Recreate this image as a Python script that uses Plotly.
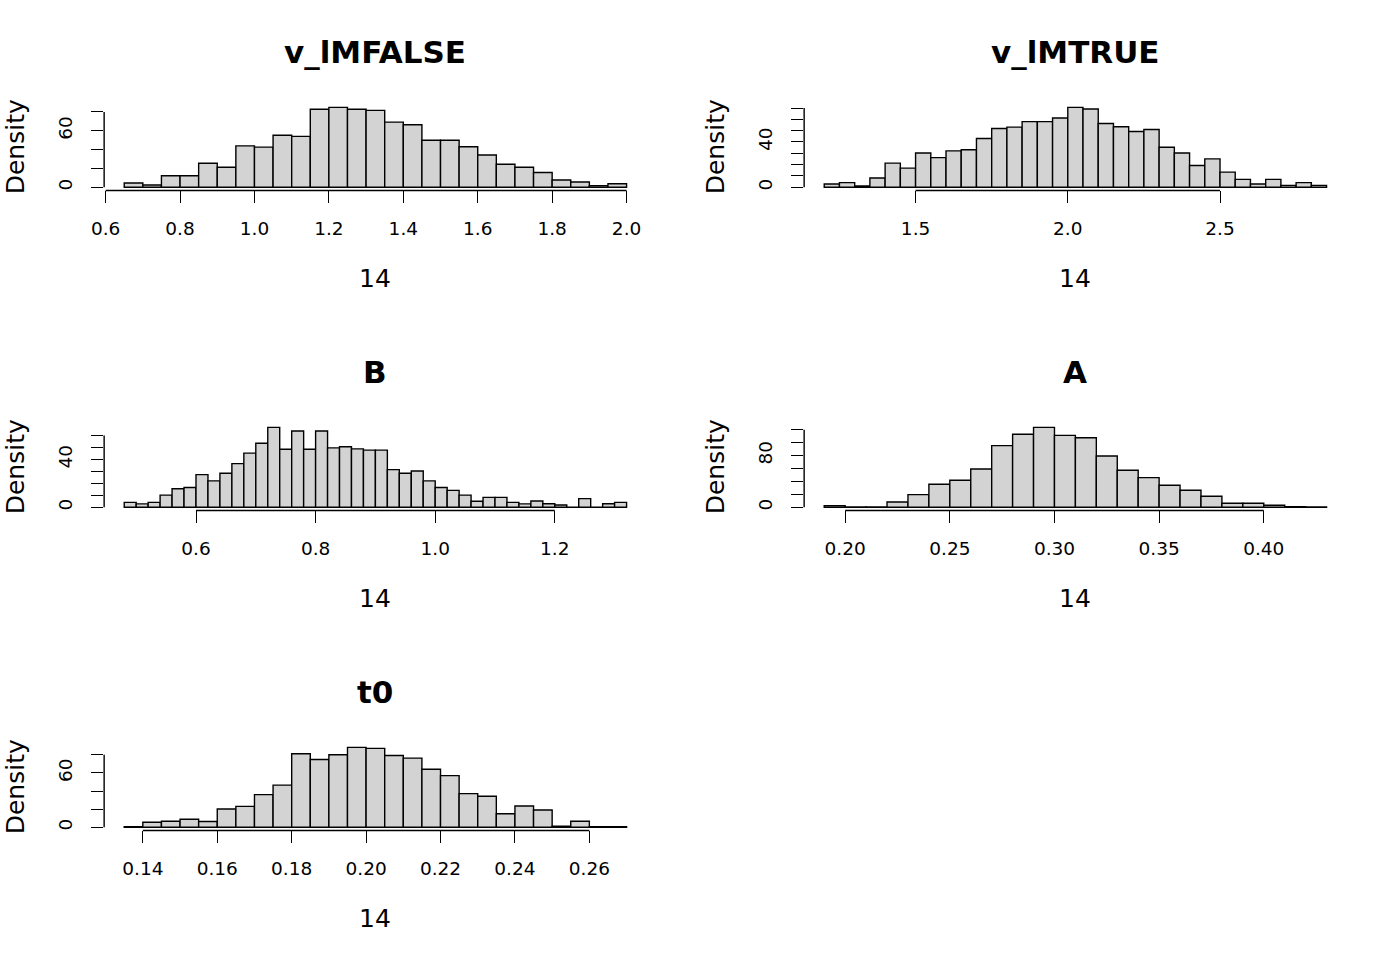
import plotly.graph_objects as go

W, H = 1400, 960

# ---------------- data ----------------
titles = ["v_lMFALSE", "v_lMTRUE", "B", "A", "t0"]
x_title = "14"
y_title = "Density"

# v_lMFALSE : breaks 0.65 .. 2.00 by 0.05
vf_start, vf_width = 0.65, 0.05
vf_density = [4.5, 2.4, 12.2, 12.2, 25.5, 21.3, 44.0, 42.6, 55.2, 54.1, 82.8, 84.9,
              82.8, 81.7, 69.2, 66.4, 50.0, 50.0, 43.0, 34.2, 24.5, 21.3, 15.7, 7.7,
              5.6, 1.7, 3.8]
vf_xticks = [0.6, 0.8, 1.0, 1.2, 1.4, 1.6, 1.8, 2.0]
vf_xlabels = ["0.6", "0.8", "1.0", "1.2", "1.4", "1.6", "1.8", "2.0"]
vf_yticks = [0, 20, 40, 60, 80]
vf_ylabels = ["0", "", "", "60", ""]

# v_lMTRUE : breaks 1.20 .. 2.85 by 0.05
vt_start, vt_width = 1.20, 0.05
vt_density = [2.9, 4.1, 1.2, 8.2, 21.3, 16.9, 30.3, 26.2, 32.1, 33.2, 43.1, 51.9,
              53.1, 58.0, 58.0, 61.2, 70.6, 69.1, 56.3, 53.4, 49.3, 51.0, 35.3, 30.3,
              19.2, 25.1, 13.4, 7.0, 2.9, 7.0, 1.7, 4.1, 1.7]
vt_xticks = [1.5, 2.0, 2.5]
vt_xlabels = ["1.5", "2.0", "2.5"]
vt_yticks = [0, 10, 20, 30, 40, 50, 60, 70]
vt_ylabels = ["0", "", "", "", "40", "", "", ""]

# B : breaks 0.48 .. 1.32 by 0.02
b_start, b_width = 0.48, 0.02
b_density = [4.1, 2.8, 4.1, 10.2, 15.5, 16.6, 27.3, 22.1, 28.5, 36.5, 45.3, 53.6,
             66.9, 48.6, 63.8, 48.6, 63.8, 49.7, 50.6, 48.9, 47.8, 47.8, 31.5, 28.5,
             30.4, 22.1, 16.6, 14.1, 10.2, 5.0, 8.3, 8.3, 4.1, 2.8, 5.2, 3.0,
             1.9, 0.0, 7.2, 0.0, 3.0, 4.1]
b_xticks = [0.6, 0.8, 1.0, 1.2]
b_xlabels = ["0.6", "0.8", "1.0", "1.2"]
b_yticks = [0, 10, 20, 30, 40, 50, 60]
b_ylabels = ["0", "", "", "", "40", "", ""]

# A : breaks 0.19 .. 0.43 by 0.01
a_start, a_width = 0.19, 0.01
a_density = [2.6, 0.5, 0.5, 8.2, 19.6, 35.6, 41.8, 59.3, 95.4, 112.9, 123.7, 111.3,
             107.7, 79.4, 57.2, 45.9, 34.0, 26.3, 17.0, 6.2, 6.2, 3.1, 1.0, 0.5]
a_xticks = [0.20, 0.25, 0.30, 0.35, 0.40]
a_xlabels = ["0.20", "0.25", "0.30", "0.35", "0.40"]
a_yticks = [0, 20, 40, 60, 80, 100, 120]
a_ylabels = ["0", "", "", "", "80", "", ""]

# t0 : breaks 0.135 .. 0.270 by 0.005
t_start, t_width = 0.135, 0.005
t_density = [0.7, 5.6, 6.7, 8.9, 6.3, 20.1, 23.1, 36.1, 46.6, 81.2, 74.9, 80.1,
             88.3, 87.2, 79.3, 76.4, 64.1, 57.0, 37.2, 34.3, 14.9, 23.5, 19.0, 1.1,
             6.7, 0.7, 0.7]
t_xticks = [0.14, 0.16, 0.18, 0.20, 0.22, 0.24, 0.26]
t_xlabels = ["0.14", "0.16", "0.18", "0.20", "0.22", "0.24", "0.26"]
t_yticks = [0, 20, 40, 60, 80]
t_ylabels = ["0", "", "", "60", ""]

panels = [
    (vf_start, vf_width, vf_density, vf_xticks, vf_xlabels, vf_yticks, vf_ylabels),
    (vt_start, vt_width, vt_density, vt_xticks, vt_xlabels, vt_yticks, vt_ylabels),
    (b_start, b_width, b_density, b_xticks, b_xlabels, b_yticks, b_ylabels),
    (a_start, a_width, a_density, a_xticks, a_xlabels, a_yticks, a_ylabels),
    (t_start, t_width, t_density, t_xticks, t_xlabels, t_yticks, t_ylabels),
]

# ---------------- layout geometry (R mfrow = c(3, 2)) ----------------
CELL_W, CELL_H = 700, 320
LINE = 25.4
ML, MR, MT, MB = 4.1 * LINE, 2.1 * LINE, 4.1 * LINE, 5.1 * LINE
FONT = "DejaVu Sans"
TICK_FONT = 18.5
LAB_FONT = 25
TITLE_FONT = 31
LW = 1.4

def px_x(x):
    return x / W

def px_y(y):
    return 1 - y / H

fig = go.Figure()
layout = dict(
    template="none",
    width=W, height=H,
    margin=dict(l=0, r=0, t=0, b=0, pad=0),
    paper_bgcolor="white", plot_bgcolor="white",
    showlegend=False,
)
annotations = []
shapes = []

for i, (start, width, dens, xt, xl, yt, yl) in enumerate(panels):
    r, c = divmod(i, 2)
    left = c * CELL_W + ML
    right = (c + 1) * CELL_W - MR
    top = r * CELL_H + MT
    bottom = (r + 1) * CELL_H - MB

    n = len(dens)
    lo = start
    hi = start + n * width
    span = hi - lo
    ymax = max(dens)
    centers = [start + (k + 0.5) * width for k in range(n)]

    ax = "" if i == 0 else str(i + 1)
    fig.add_trace(go.Bar(
        x=centers, y=dens, width=[width] * n,
        marker=dict(color="#D3D3D3", line=dict(color="black", width=LW)),
        xaxis="x" + ax, yaxis="y" + ax, hoverinfo="x+y",
    ))

    layout["xaxis" + ax] = dict(
        domain=[px_x(left), px_x(right)],
        range=[lo - 0.04 * span, hi + 0.04 * span],
        anchor="y" + ax, automargin=False,
        showgrid=False, zeroline=False, showline=False,
        ticks="outside", ticklen=12, tickwidth=LW, tickcolor="black",
        tickvals=xt, ticktext=xl,
        tickfont=dict(family=FONT, size=TICK_FONT, color="black"),
        ticklabelstandoff=9,
    )
    layout["yaxis" + ax] = dict(
        domain=[px_y(bottom), px_y(top)],
        range=[-0.04 * ymax, 1.04 * ymax],
        anchor="x" + ax, automargin=False,
        showgrid=False, zeroline=False, showline=False,
        ticks="outside", ticklen=12, tickwidth=LW, tickcolor="black",
        tickvals=yt, ticktext=yl, tickangle=-90,
        tickfont=dict(family=FONT, size=TICK_FONT, color="black"),
        ticklabelstandoff=12,
    )
    # axis lines spanning first..last tick (R style)
    shapes.append(dict(type="line", xref="x" + ax, yref="y" + ax + " domain",
                       x0=xt[0], x1=xt[-1], y0=0, y1=0,
                       line=dict(color="black", width=LW)))
    shapes.append(dict(type="line", xref="x" + ax + " domain", yref="y" + ax,
                       x0=0, x1=0, y0=yt[0], y1=yt[-1],
                       line=dict(color="black", width=LW)))

    cx = (left + right) / 2
    cy = (top + bottom) / 2
    annotations.append(dict(text="<b>" + titles[i] + "</b>", xref="paper", yref="paper",
                            x=px_x(cx), y=px_y(r * CELL_H + 52), showarrow=False,
                            xanchor="center", yanchor="middle",
                            font=dict(family=FONT, size=TITLE_FONT, color="black")))
    annotations.append(dict(text=x_title, xref="paper", yref="paper",
                            x=px_x(cx), y=px_y(r * CELL_H + 278), showarrow=False,
                            xanchor="center", yanchor="middle",
                            font=dict(family=FONT, size=LAB_FONT, color="black")))
    annotations.append(dict(text=y_title, xref="paper", yref="paper",
                            x=px_x(c * CELL_W + 15), y=px_y(cy), showarrow=False,
                            textangle=-90, xanchor="center", yanchor="middle",
                            font=dict(family=FONT, size=LAB_FONT, color="black")))

layout["annotations"] = annotations
layout["shapes"] = shapes
fig.update_layout(**layout)
fig.write_html("out.html", config={"displayModeBar": False},
               post_script="document.body.style.margin='0px';")
